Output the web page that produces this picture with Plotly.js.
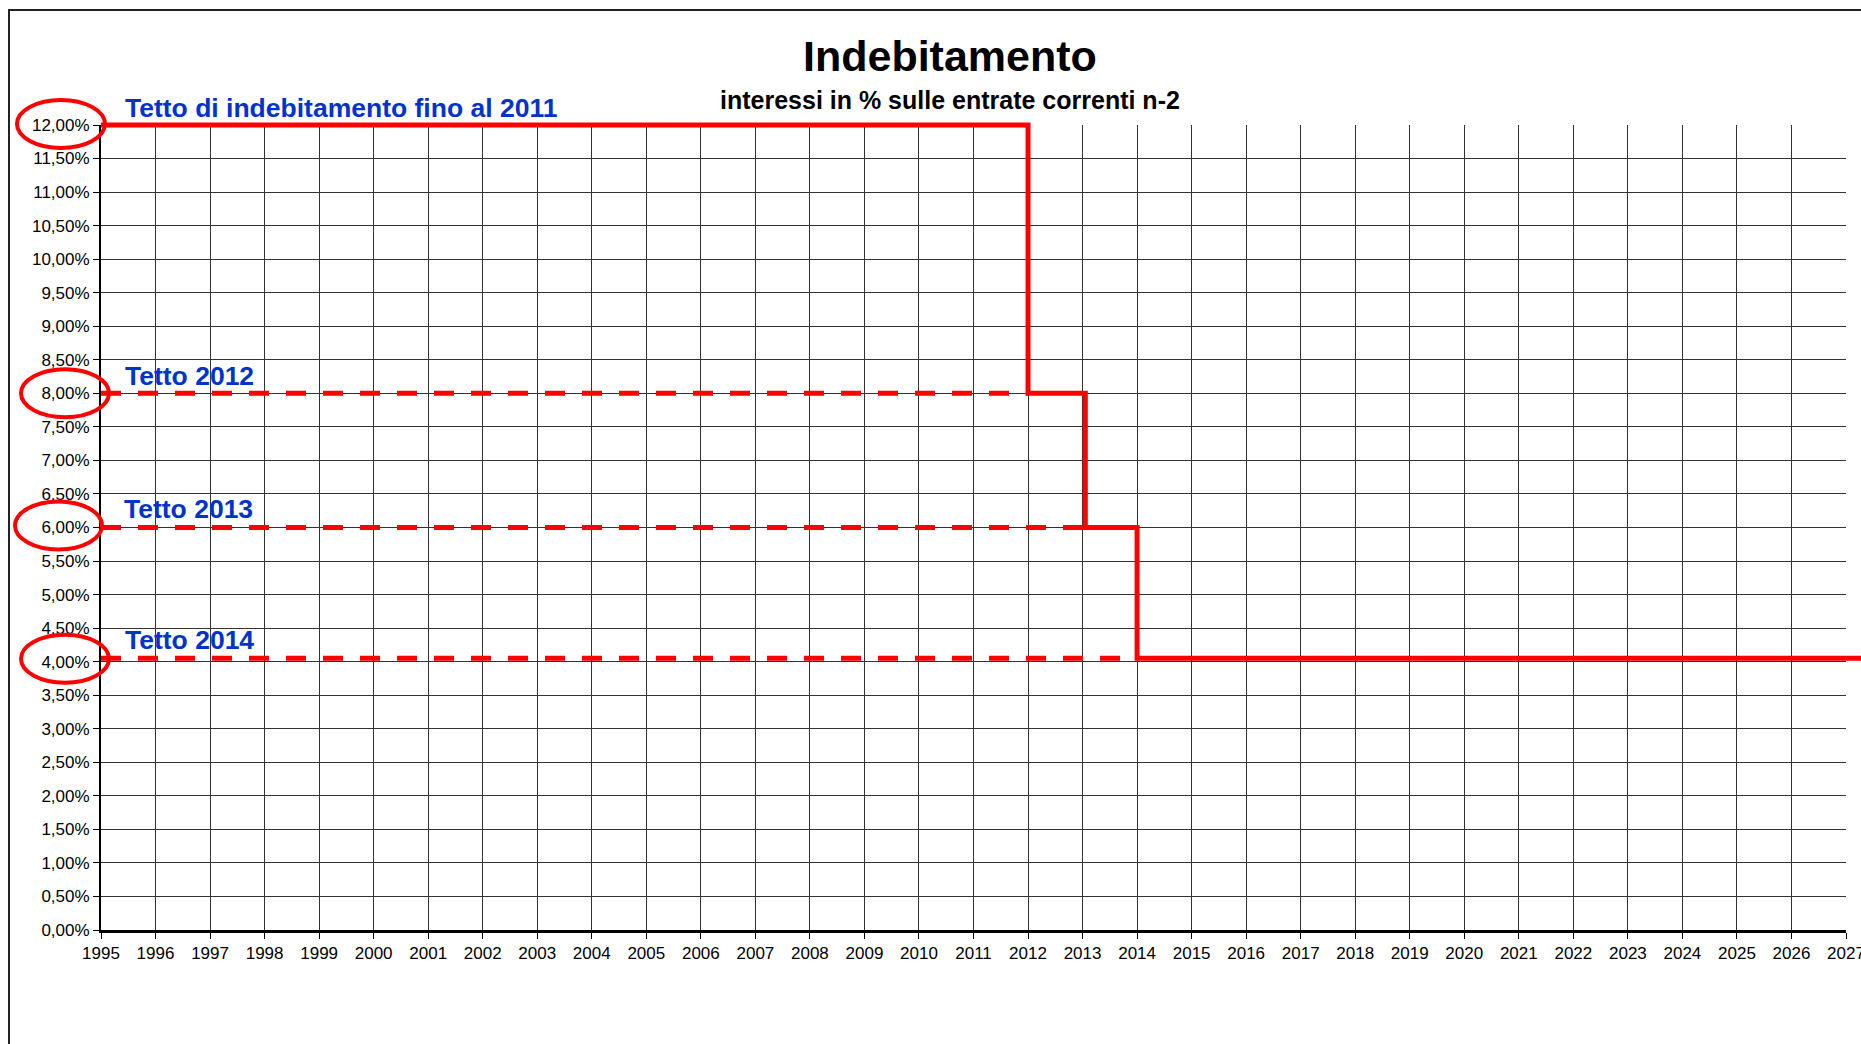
<!DOCTYPE html>
<html>
<head>
<meta charset="utf-8">
<script src="https://cdn.plot.ly/plotly-3.0.1.min.js"></script>
<style>
  html, body { margin: 0; padding: 0; background: #fff; overflow: hidden; width: 1861px; height: 1044px; }
  #chart { position: absolute; left: 8px; top: 9px; width: 1900px; height: 1100px;
           border-left: 2px solid #222; border-top: 2px solid #222; }
</style>
</head>
<body>
<div id="chart"></div>
<script>
// ---- data ----
const titleText = "Indebitamento";
const subtitleText = "interessi in % sulle entrate correnti n-2";
const xStart = 1995;
const xEnd = 2027;
const yMax = 12;
// solid step line: cap in force over time
const stepYears = [1995, 2012, 2012, 2013.05, 2013.05, 2014, 2014, 2027.3];
const stepCaps  = [12, 12, 8, 8, 6, 6, 4.05, 4.05];
// dashed reference lines for the new caps
const refCaps   = [8, 6, 4.05];
const refEnds   = [2012, 2013.05, 2014];
// labels
const labelCaps  = [12, 8, 6, 4.05];
const labelTexts = ["Tetto di indebitamento fino al 2011", "Tetto 2012", "Tetto 2013", "Tetto 2014"];
const circledTicks = [12, 8, 6, 4];

const FONT = "'Liberation Sans', Arial, sans-serif";
const RED = "#ff0000";
const BLUE = "#0033cc";

// geometry: main grid 1745x805 px, overlay area (for unclipped red lines) 1760x812 px
const mainW = 1745, mainH = 805, fullW = 1760, fullH = 812;
const xDomTop = mainW / fullW, yDomTop = mainH / fullH;
const x2End = xStart + (xEnd - xStart) * fullW / mainW;
const y2End = yMax * fullH / mainH;

const traces = [];
refCaps.forEach((c, i) => {
  traces.push({
    x: [xStart, refEnds[i]], y: [c, c], mode: "lines", type: "scatter",
    xaxis: "x2", yaxis: "y2",
    line: { color: RED, width: 5, dash: "20px,17px" }, hoverinfo: "skip", showlegend: false
  });
});
traces.push({
  x: stepYears, y: stepCaps, mode: "lines", type: "scatter",
  xaxis: "x2", yaxis: "y2",
  line: { color: RED, width: 5 }, hoverinfo: "skip", showlegend: false
});

const labelShift = [17, 17, 19, 18];
const labelXShift = [22, 22, 21, 22];
const annotations = labelTexts.map((t, i) => ({
  text: "<b>" + t + "</b>", xref: "paper", x: 0, xanchor: "left", xshift: labelXShift[i],
  yref: "y", y: labelCaps[i], yanchor: "middle", yshift: labelShift[i],
  showarrow: false, font: { family: FONT, size: 26.5, color: BLUE }
}));
annotations.push({
  text: "<b>" + subtitleText + "</b>", xref: "paper", x: 0.4824, xanchor: "center",
  yref: "paper", y: 1.0222, yanchor: "middle", showarrow: false,
  font: { family: FONT, size: 25, color: "#000" }
});

const ellX = [[-84, 4], [-80, 8], [-86, 1], [-80, 8]];
const ellYOff = [1, 0, 2, 3];
const shapes = circledTicks.map((v, i) => ({
  type: "circle", xref: "paper", xsizemode: "pixel", xanchor: 0,
  x0: ellX[i][0], x1: ellX[i][1],
  yref: "paper", ysizemode: "pixel", yanchor: v / yMax * yDomTop,
  y0: ellYOff[i] - 24, y1: ellYOff[i] + 24,
  line: { color: RED, width: 4 }, layer: "above"
}));

const tickFont = { family: FONT, size: 17, color: "#000" };
const layout = {
  width: 1900, height: 1100,
  margin: { l: 91, r: 49, t: 107, b: 181 },
  paper_bgcolor: "#fff", plot_bgcolor: "rgba(0,0,0,0)",
  separators: ",.",
  font: { family: FONT, color: "#000" },
  title: {
    text: "<b>" + titleText + "</b>", x: 0.4947, xanchor: "center",
    y: 0.959, yanchor: "middle", yref: "container",
    font: { family: FONT, size: 43, color: "#000" }
  },
  xaxis: {
    domain: [0, xDomTop], anchor: "y",
    range: [xStart, xEnd], tick0: xStart, dtick: 1, tickmode: "linear",
    showgrid: true, gridcolor: "#333", gridwidth: 1,
    showline: true, linecolor: "#000", linewidth: 3,
    ticks: "outside", ticklen: 6, tickwidth: 1, tickcolor: "#000",
    tickfont: tickFont, zeroline: false, fixedrange: true
  },
  yaxis: {
    domain: [0, yDomTop], anchor: "x",
    range: [0, yMax], tick0: 0, dtick: 0.5, tickmode: "linear",
    tickformat: ".2f", ticksuffix: "%",
    showgrid: true, gridcolor: "#333", gridwidth: 1,
    showline: true, linecolor: "#000", linewidth: 2,
    ticks: "outside", ticklen: 6, tickwidth: 1, tickcolor: "#000",
    tickfont: tickFont, zeroline: false, fixedrange: true
  },
  xaxis2: {
    domain: [0, 1], anchor: "y2", range: [xStart, x2End],
    visible: false, showgrid: false, zeroline: false, fixedrange: true
  },
  yaxis2: {
    domain: [0, 1], anchor: "x2", range: [0, y2End],
    visible: false, showgrid: false, zeroline: false, fixedrange: true
  },
  annotations: annotations,
  shapes: shapes,
  showlegend: false
};

Plotly.newPlot("chart", traces, layout, { staticPlot: true, displayModeBar: false });
</script>
</body>
</html>
